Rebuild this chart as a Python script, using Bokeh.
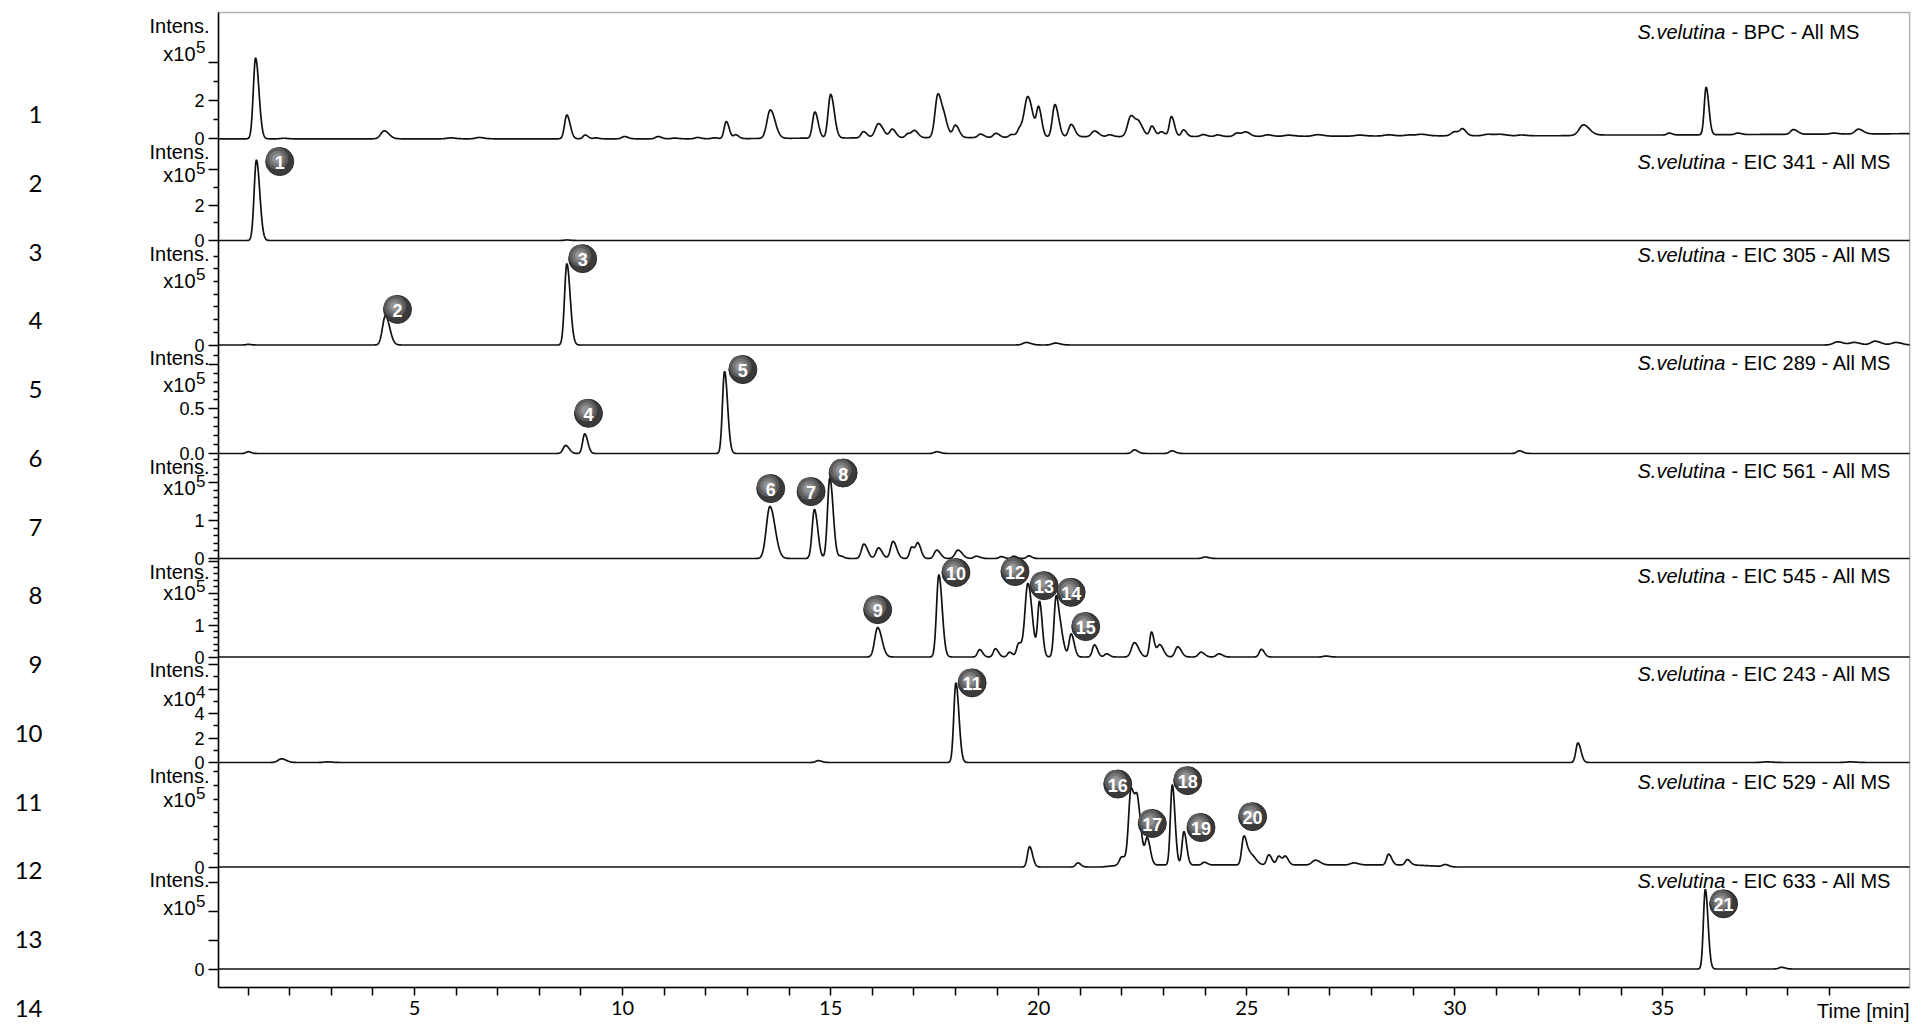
import json
import numpy as np
from bokeh.plotting import figure
from bokeh.models import Range1d, FixedTicker, CustomJSTickFormatter, Label, ColumnDataSource, BoxAnnotation
from bokeh.embed import file_html
from bokeh.resources import INLINE
from bokeh.core.properties import value

# ---------------- data ----------------
TIME_MIN, TIME_MAX = 0.29, 40.93
X_MAJOR = [5, 10, 15, 20, 25, 30, 35]
X_MINOR = [i for i in range(1, 40) if i % 5]

SPECIES = "S.velutina"
TRACE_NAMES = ["BPC", "EIC 341", "EIC 305", "EIC 289", "EIC 561", "EIC 545", "EIC 243", "EIC 529", "EIC 633"]
EXPONENTS = ["5", "5", "5", "5", "5", "5", "4", "5", "5"]
ROW_NUMBERS = [str(i) for i in range(1, 15)]

# peak tables: retention time [min], intensity (axis units), sigma [min]
BPC_RT = [1.18, 1.85, 4.27, 5.86, 6.55, 8.66, 9.10, 9.35, 10.04, 10.85, 11.25, 11.80, 12.20, 12.49, 12.72,
          13.55, 14.62, 15.00, 15.79, 16.15, 16.48, 16.86, 17.02, 17.58, 17.75, 18.00, 18.60, 18.97, 19.35,
          19.55, 19.74, 20.00, 20.39, 20.78, 21.34, 21.70, 22.22, 22.42, 22.72, 22.95, 23.19, 23.48, 23.95,
          24.30, 24.77, 24.98, 25.50, 26.00, 26.70, 27.70, 28.40, 28.90, 29.20, 30.00, 30.19, 30.80, 31.10,
          31.60, 33.09, 35.15, 36.04, 36.80, 38.14, 39.10, 39.70]
BPC_INT = [4.25, 0.03, 0.42, 0.05, 0.07, 1.25, 0.20, 0.05, 0.12, 0.12, 0.04, 0.07, 0.05, 0.90, 0.20,
           1.50, 1.38, 2.30, 0.33, 0.75, 0.45, 0.22, 0.35, 2.30, 0.60, 0.65, 0.18, 0.22, 0.15,
           0.45, 2.10, 1.45, 1.70, 0.65, 0.30, 0.10, 1.10, 0.55, 0.55, 0.25, 1.05, 0.35, 0.10,
           0.08, 0.18, 0.22, 0.08, 0.06, 0.08, 0.05, 0.06, 0.05, 0.08, 0.22, 0.32, 0.08, 0.07,
           0.04, 0.55, 0.10, 2.50, 0.08, 0.25, 0.05, 0.25]
BPC_SIG = [0.055, 0.06, 0.08, 0.08, 0.08, 0.055, 0.05, 0.05, 0.06, 0.06, 0.06, 0.06, 0.06, 0.05, 0.05,
           0.08, 0.055, 0.06, 0.06, 0.08, 0.06, 0.06, 0.06, 0.07, 0.06, 0.06, 0.06, 0.06, 0.06,
           0.06, 0.08, 0.05, 0.06, 0.06, 0.07, 0.06, 0.08, 0.07, 0.05, 0.06, 0.05, 0.05, 0.06,
           0.06, 0.07, 0.07, 0.08, 0.1, 0.1, 0.1, 0.1, 0.1, 0.1, 0.08, 0.06, 0.1, 0.1,
           0.08, 0.1, 0.05, 0.045, 0.06, 0.07, 0.08, 0.08]
BPC_BASE_RT = [0.29, 12.0, 15.0, 19.0, 21.0, 26.0, 30.0, 32.5, 33.5, 35.0, 40.93]
BPC_BASE_INT = [0.0, 0.0, 0.04, 0.07, 0.11, 0.13, 0.16, 0.16, 0.2, 0.2, 0.27]

EIC341_RT = [1.20, 8.66]
EIC341_INT = [4.55, 0.03]
EIC341_SIG = [0.055, 0.06]

EIC305_RT = [1.0, 4.30, 8.66, 19.70, 20.40, 39.20, 39.60, 40.10, 40.60]
EIC305_INT = [0.01, 0.46, 1.28, 0.04, 0.03, 0.05, 0.04, 0.06, 0.04]
EIC305_SIG = [0.05, 0.07, 0.055, 0.08, 0.08, 0.1, 0.1, 0.1, 0.1]

EIC289_RT = [1.0, 8.63, 9.09, 12.45, 17.55, 22.30, 23.20, 31.55]
EIC289_INT = [0.02, 0.09, 0.22, 0.92, 0.02, 0.04, 0.03, 0.03]
EIC289_SIG = [0.05, 0.06, 0.05, 0.05, 0.06, 0.06, 0.06, 0.06]

EIC561_RT = [13.54, 14.61, 14.98, 15.25, 15.80, 16.15, 16.50, 16.95, 17.10, 17.55, 18.06, 18.50,
             19.10, 19.40, 19.76, 24.00]
EIC561_INT = [1.37, 1.29, 2.12, 0.06, 0.38, 0.28, 0.45, 0.30, 0.38, 0.22, 0.22, 0.06,
              0.05, 0.06, 0.07, 0.04]
EIC561_SIG = [0.085, 0.055, 0.055, 0.05, 0.06, 0.06, 0.06, 0.05, 0.05, 0.06, 0.07, 0.06,
              0.05, 0.05, 0.05, 0.06]

EIC545_RT = [16.13, 17.60, 18.58, 18.96, 19.30, 19.52, 19.74, 20.02, 20.42, 20.55, 20.78, 21.34,
             21.63, 22.30, 22.71, 22.91, 23.34, 23.90, 24.33, 25.35, 26.90]
EIC545_INT = [0.92, 2.57, 0.23, 0.26, 0.15, 0.42, 2.30, 1.70, 1.90, 0.50, 0.72, 0.38,
              0.10, 0.45, 0.78, 0.38, 0.32, 0.15, 0.10, 0.24, 0.03]
EIC545_SIG = [0.07, 0.055, 0.05, 0.05, 0.05, 0.05, 0.07, 0.045, 0.05, 0.05, 0.05, 0.05,
              0.05, 0.07, 0.045, 0.06, 0.06, 0.06, 0.06, 0.05, 0.06]

EIC243_RT = [1.80, 2.90, 14.70, 18.01, 32.96, 37.50, 39.50]
EIC243_INT = [0.30, 0.05, 0.15, 6.50, 1.60, 0.05, 0.05]
EIC243_SIG = [0.08, 0.08, 0.06, 0.05, 0.05, 0.1, 0.1]

EIC529_RT = [19.78, 20.94, 22.00, 22.22, 22.38, 22.61, 23.21, 23.49, 23.98, 24.93, 25.10, 25.53,
             25.77, 25.93, 26.65, 27.57, 28.41, 28.86, 29.77]
EIC529_INT = [0.30, 0.06, 0.12, 1.10, 0.80, 0.38, 1.18, 0.49, 0.04, 0.41, 0.15, 0.15,
              0.13, 0.12, 0.07, 0.03, 0.16, 0.08, 0.03]
EIC529_SIG = [0.05, 0.05, 0.06, 0.06, 0.06, 0.05, 0.045, 0.045, 0.05, 0.05, 0.08, 0.05,
              0.05, 0.05, 0.08, 0.08, 0.05, 0.05, 0.06]
EIC529_BASE_RT = [0.29, 21.5, 22.0, 29.0, 30.0, 40.93]
EIC529_BASE_INT = [0.0, 0.0, 0.03, 0.03, 0.0, 0.0]

EIC633_RT = [36.02, 37.85]
EIC633_INT = [2.78, 0.06]
EIC633_SIG = [0.045, 0.06]

# numbered compound markers: number, trace index, rt, intensity
BADGE_NUM = [str(i) for i in range(1, 22)]
BADGE_TRACE = [1, 2, 2, 3, 3, 4, 4, 4, 5, 5, 6, 5, 5, 5, 5, 7, 7, 7, 7, 7, 8]
BADGE_RT = [1.76, 4.59, 9.04, 9.18, 12.89, 13.56, 14.53, 15.30, 16.13, 18.01, 18.40, 19.43, 20.13,
            20.78, 21.13, 21.90, 22.73, 23.58, 23.90, 25.14, 36.46]
BADGE_INT = [4.46, 0.56, 1.36, 0.45, 0.94, 1.84, 1.76, 2.25, 1.48, 2.64, 6.50, 2.67, 2.23,
             2.02, 0.95, 1.22, 0.64, 1.27, 0.58, 0.74, 2.27]

# axis ticks per trace (axis units): majors, their labels, minors
TICK_MAJORS = [[0, 2, 4], [0, 2, 4], [0], [0, 0.5, 1.0], [0, 1, 2], [0, 1, 2, 3], [0, 2, 4, 6, 8], [0], [0, 1, 2, 3]]
TICK_LABELS = [["0", "2", ""], ["0", "2", ""], ["0"], ["0.0", "0.5", ""], ["0", "1", ""], ["0", "1", "", ""],
               ["0", "2", "4", "", ""], ["0"], ["0", "", "", ""]]
TICK_MINORS = [[1, 3], [1, 3], [0.2, 0.4, 0.6, 0.8, 1.0, 1.2, 1.4],
               [0.1, 0.2, 0.3, 0.4, 0.6, 0.7, 0.8, 0.9, 1.1],
               [0.2, 0.4, 0.6, 0.8, 1.2, 1.4, 1.6, 1.8, 2.2, 2.4, 2.6],
               [0.2, 0.4, 0.6, 0.8, 1.2, 1.4, 1.6, 1.8, 2.2, 2.4, 2.6, 2.8],
               [1, 3, 5, 7], [0.2, 0.4, 0.6, 0.8, 1.0, 1.2, 1.4], []]

# ---------------- layout (page pixels) ----------------
PAGE_W, PAGE_H = 1921, 1024
PX0, PX_PER_MIN = 206.0, 41.61          # time axis: page x = PX0 + t * PX_PER_MIN
FRAME_TOP, FRAME_BOTTOM = 12.0, 987.0
PANEL_BASE = [138.3, 240.0, 344.5, 453.0, 558.0, 656.5, 762.0, 866.5, 968.5]   # y of zero line
PANEL_SCALE = [19.0, 17.7, 63.5, 89.3, 38.0, 32.0, 12.25, 68.0, 28.7]          # px per axis unit
PANEL_TOP = [FRAME_TOP] + PANEL_BASE[:-1]
TITLE_Y = [31, 161, 254, 362, 470, 575, 673, 781, 880]
X10_Y = [53, 174, 280, 384, 487, 592, 698, 799, 907]
ROW_Y0, ROW_DY = 114.0, 68.75


def px2t(px):
    return (px - PX0) / PX_PER_MIN


traces = [
    (BPC_RT, BPC_INT, BPC_SIG, BPC_BASE_RT, BPC_BASE_INT),
    (EIC341_RT, EIC341_INT, EIC341_SIG, None, None),
    (EIC305_RT, EIC305_INT, EIC305_SIG, None, None),
    (EIC289_RT, EIC289_INT, EIC289_SIG, None, None),
    (EIC561_RT, EIC561_INT, EIC561_SIG, None, None),
    (EIC545_RT, EIC545_INT, EIC545_SIG, None, None),
    (EIC243_RT, EIC243_INT, EIC243_SIG, None, None),
    (EIC529_RT, EIC529_INT, EIC529_SIG, EIC529_BASE_RT, EIC529_BASE_INT),
    (EIC633_RT, EIC633_INT, EIC633_SIG, None, None),
]

p = figure(width=PAGE_W, height=PAGE_H, output_backend="svg", toolbar_location=None,
           x_range=Range1d(px2t(0), px2t(PAGE_W)), y_range=Range1d(PAGE_H, 0),
           min_border_left=0, min_border_right=0, min_border_top=0, min_border_bottom=0)
p.grid.visible = False
p.outline_line_color = None
p.background_fill_color = "white"
p.border_fill_color = "white"

# chart box
p.add_layout(BoxAnnotation(left=TIME_MIN, right=TIME_MAX, top=FRAME_TOP, bottom=FRAME_BOTTOM,
                           fill_alpha=0, line_color="black", line_width=1.5))

# one value range per trace so that every trace is drawn in its own units
t = np.linspace(TIME_MIN, TIME_MAX, 5000)
for i, (rt, inten, sig, brt, bint) in enumerate(traces):
    b, s = PANEL_BASE[i], PANEL_SCALE[i]
    rname = f"tr{i}"
    p.extra_y_ranges[rname] = Range1d((b - PAGE_H) / s, b / s)
    y = np.zeros_like(t)
    if brt is not None:
        y += np.interp(t, brt, bint)
    for r, h, sg in zip(rt, inten, sig):
        sgv = np.where(t < r, sg, sg * 1.45)
        y += h * np.exp(-0.5 * ((t - r) / sgv) ** 2)
    p.line(t, y, y_range_name=rname, line_color="#111111", line_width=1.7)

# compound markers (shaded spheres with white numbers)
for i in range(9):
    idx = [k for k, tr in enumerate(BADGE_TRACE) if tr == i]
    if not idx:
        continue
    s = PANEL_SCALE[i]
    xs = [BADGE_RT[k] for k in idx]
    ys = [BADGE_INT[k] for k in idx]
    src = ColumnDataSource(dict(x=xs, y=ys, txt=[BADGE_NUM[k] for k in idx]))
    hl = ColumnDataSource(dict(x=[v - 2.5 / PX_PER_MIN for v in xs], y=[v + 3.0 / s for v in ys]))
    rname = f"tr{i}"
    p.scatter("x", "y", source=src, y_range_name=rname, size=28, marker="circle",
              fill_color="#3a3a3a", line_color="#2a2a2a", line_width=1)
    for sz, col, al in [(22, "#5c5c5c", 1.0), (16, "#7a7a7a", 0.9), (10, "#9a9a9a", 0.8)]:
        p.scatter("x", "y", source=hl, y_range_name=rname, size=sz, marker="circle",
                  fill_color=col, fill_alpha=al, line_color=None)
    p.text("x", "y", text="txt", source=src, y_range_name=rname, text_color="white",
           text_font=value("Liberation Sans"), text_font_style="bold", text_font_size="18px",
           text_align="center", text_baseline="middle", y_offset=1)

# x axis
xa = p.xaxis[0]
xa.fixed_location = FRAME_BOTTOM
xa.bounds = (TIME_MIN, TIME_MAX)
xa.ticker = FixedTicker(ticks=X_MAJOR, minor_ticks=X_MINOR)
xa.major_tick_out = 8
xa.minor_tick_out = 8
xa.major_tick_in = 0
xa.minor_tick_in = 0
xa.axis_line_width = 1.5
xa.major_tick_line_width = 1.5
xa.minor_tick_line_width = 1.5
xa.major_label_standoff = 5
xa.major_label_text_font = "Lato"
xa.major_label_text_font_size = "20px"
xa.major_label_text_color = "black"

# y axis (stacked value scales)
major_pos, minor_pos, labels = [], [], {}
for i in range(9):
    b, s = PANEL_BASE[i], PANEL_SCALE[i]
    for v, lab in zip(TICK_MAJORS[i], TICK_LABELS[i]):
        yy = round(b - v * s, 1)
        major_pos.append(yy)
        labels[str(int(round(yy * 10)))] = lab
    for v in TICK_MINORS[i]:
        minor_pos.append(round(b - v * s, 1))
ya = p.yaxis[0]
ya.fixed_location = TIME_MIN
ya.bounds = (FRAME_TOP, FRAME_BOTTOM)
ya.ticker = FixedTicker(ticks=major_pos, minor_ticks=minor_pos)
ya.formatter = CustomJSTickFormatter(code="const m = %s; const k = String(Math.round(tick*10)); return (k in m) ? m[k] : '';" % json.dumps(labels))
ya.major_tick_out = 10
ya.minor_tick_out = 5
ya.major_tick_in = 0
ya.minor_tick_in = 0
ya.axis_line_width = 1.5
ya.major_tick_line_width = 1.5
ya.minor_tick_line_width = 1.5
ya.major_label_standoff = 4
ya.major_label_text_font = "Liberation Sans"
ya.major_label_text_font_size = "18px"
ya.major_label_text_color = "black"

# texts
for i in range(9):
    p.add_layout(Label(x=px2t(1637), y=TITLE_Y[i], text=SPECIES, text_font="Liberation Sans",
                       text_font_style="italic", text_font_size="20px", text_align="left",
                       text_baseline="middle", text_color="black"))
    p.add_layout(Label(x=px2t(1731), y=TITLE_Y[i], text="- " + TRACE_NAMES[i] + " - All MS",
                       text_font="Liberation Sans", text_font_size="20px", text_align="left",
                       text_baseline="middle", text_color="black"))
    p.add_layout(Label(x=px2t(209), y=PANEL_TOP[i] + 13, text="Intens.", text_font="Liberation Sans",
                       text_font_size="20px", text_align="right", text_baseline="middle", text_color="black"))
    p.add_layout(Label(x=px2t(195), y=X10_Y[i], text="x10", text_font="Liberation Sans",
                       text_font_size="20px", text_align="right", text_baseline="middle", text_color="black"))
    p.add_layout(Label(x=px2t(195.5), y=X10_Y[i] - 7, text=EXPONENTS[i], text_font="Liberation Sans",
                       text_font_size="17px", text_align="left", text_baseline="middle", text_color="black"))

p.add_layout(Label(x=TIME_MAX, y=1010, text="Time [min]", text_font="Liberation Sans",
                   text_font_size="20px", text_align="right", text_baseline="middle", text_color="black"))

for k, lab in enumerate(ROW_NUMBERS):
    p.add_layout(Label(x=px2t(42), y=ROW_Y0 + ROW_DY * k, text=lab, text_font="Lato", text_font_size="24px",
                       text_align="right", text_baseline="middle", text_color="black"))

open("out.html", "w").write(file_html(p, INLINE))
